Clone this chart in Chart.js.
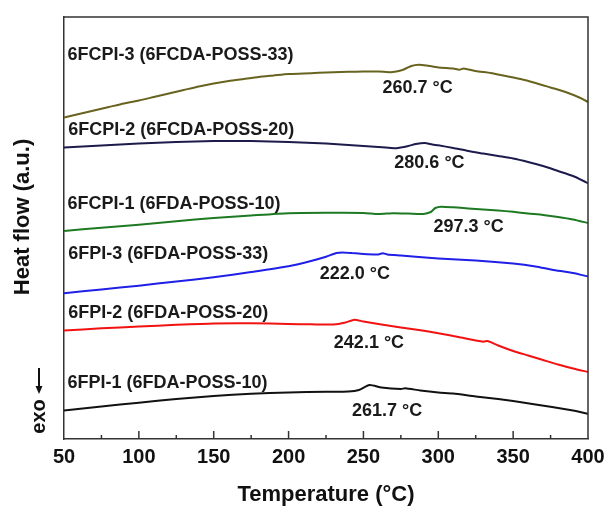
<!DOCTYPE html>
<html>
<head>
<meta charset="utf-8">
<script src="https://cdn.jsdelivr.net/npm/chart.js@4.4.1/dist/chart.umd.min.js"></script>
<style>
  html, body { margin: 0; padding: 0; background: #fff; }
  canvas { display: block; }
</style>
</head>
<body>
<canvas id="dscChart" width="604" height="510"></canvas>
<script>
// DSC curves, heat flow in arbitrary units (offset stacked)
var xTicks = [50, 100, 150, 200, 250, 300, 350, 400];

var fcpi3T = [50, 60, 70, 80, 90, 100, 110, 120, 130, 140, 150, 160, 170, 180, 190, 200, 210, 220, 230, 240, 250, 260, 268, 272, 276, 282, 287, 292, 300, 310, 314, 317, 325, 335, 345, 355, 365, 375, 385, 395, 400];
var fcpi3Y = [321.5, 325, 328.5, 332, 335.5, 338.5, 342, 345.5, 349, 352.5, 355.5, 358, 360, 362, 363.5, 365, 365.5, 366.2, 366.8, 367.2, 367.4, 367.5, 366.8, 367.5, 369, 373, 374.2, 373.5, 371.5, 370.5, 369.3, 370.5, 368, 366, 363, 360, 356, 351.5, 347, 341, 337];

var fcpi2T = [50, 75, 100, 125, 150, 175, 200, 225, 250, 265, 272, 280, 285, 291, 296, 300, 310, 320, 330, 340, 350, 360, 370, 380, 390, 395, 400];
var fcpi2Y = [291.6, 293.5, 295.4, 297, 298, 298, 297, 295.5, 293, 291.5, 290.8, 293, 295, 296, 294.5, 293.7, 291, 288, 285.5, 283, 280.5, 277, 273, 268, 263, 259.5, 255.7];

var fcpi1T = [50, 75, 100, 125, 150, 175, 200, 225, 250, 260, 270, 280, 290, 295, 298, 302, 310, 320, 330, 340, 350, 360, 370, 380, 390, 400];
var fcpi1Y = [208.1, 211.2, 214.2, 217.7, 221, 223.5, 225.8, 226.2, 226.1, 225.0, 225.8, 225.5, 225.1, 227, 231, 232.3, 231.7, 230.6, 229.5, 228.5, 227.2, 225.5, 224, 222, 219.5, 216];

var fpi3T = [50, 75, 100, 125, 150, 175, 200, 215, 225, 232, 236, 242, 250, 260, 263, 266, 275, 287, 300, 325, 350, 365, 376, 390, 400];
var fpi3Y = [145.8, 149.5, 153.3, 157.5, 161.8, 167, 172.7, 178, 182.2, 186, 186.6, 186, 185, 184.6, 185.8, 184.6, 183.5, 182, 180.5, 178.5, 175.4, 172.5, 169.3, 166, 162.5];

var fpi2T = [50, 75, 100, 125, 150, 175, 200, 215, 230, 238, 244, 250, 262, 275, 287, 300, 315, 330, 333, 336, 340, 350, 360, 370, 380, 390, 400];
var fpi2Y = [108.5, 110.7, 112.5, 114.2, 115.6, 115.8, 115, 114.7, 114.5, 116.5, 119.3, 117.5, 114.5, 111.5, 109, 105.8, 101.5, 97.3, 98.0, 96.2, 93.5, 88, 83.5, 79, 74.5, 70.5, 67];

var fpi1T = [50, 75, 100, 125, 150, 175, 200, 225, 240, 247, 254, 262, 275, 278, 288, 300, 310, 325, 340, 350, 365, 376, 390, 400];
var fpi1Y = [28.5, 32.5, 36.3, 40, 43.1, 45.2, 46.5, 47.2, 47.5, 49, 54, 51.5, 50, 50.8, 48.5, 46.5, 45.5, 42.5, 40, 38, 34.5, 32, 28.5, 25.1];

var seriesNames = ['6FCPI-3 (6FCDA-POSS-33)', '6FCPI-2 (6FCDA-POSS-20)', '6FCPI-1 (6FDA-POSS-10)',
                   '6FPI-3 (6FDA-POSS-33)', '6FPI-2 (6FDA-POSS-20)', '6FPI-1 (6FDA-POSS-10)'];
var tgLabels = ['260.7 °C', '280.6 °C', '297.3 °C', '222.0 °C', '242.1 °C', '261.7 °C'];

// where the texts sit (data coords)
var nameAnchors = [[52.3, 384], [52.8, 309], [52.3, 234.6], [52.8, 185], [52.8, 126.1], [52.3, 56.4]];
var tgAnchors = [[286.2, 351.4], [294.1, 275.7], [320.3, 211.5], [244.3, 164.5], [253.7, 95.6], [265.8, 27.8]];

var colors = ['#68631f', '#1c1b4c', '#1d7a22', '#1f1fe8', '#f21212', '#111111'];

function pts(xs, ys) {
    return xs.map(function (x, i) { return { x: x, y: ys[i] }; });
}

var allT = [fcpi3T, fcpi2T, fcpi1T, fpi3T, fpi2T, fpi1T];
var allY = [fcpi3Y, fcpi2Y, fcpi1Y, fpi3Y, fpi2Y, fpi1Y];

var datasets = allT.map(function (t, i) {
    return {
        label: seriesNames[i],
        data: pts(t, allY[i]),
        borderColor: colors[i],
        borderWidth: 2,
        pointRadius: 0,
        fill: false,
        tension: 0.2
    };
});

var fontFamily = '"Liberation Sans", Arial, sans-serif';
var textFont = 'bold 18px ' + fontFamily;

// box, inside ticks, curve labels, y title, exo arrow
var decorations = {
    id: 'decorations',
    afterDraw: function (chart) {
        var ctx = chart.ctx;
        var a = chart.chartArea;
        var xs = chart.scales.x, ys = chart.scales.y;
        ctx.save();
        ctx.strokeStyle = '#333';
        ctx.lineWidth = 1.5;
        ctx.beginPath();
        ctx.moveTo(a.left, a.top);
        ctx.lineTo(a.right, a.top);
        ctx.lineTo(a.right, a.bottom);
        ctx.stroke();

        // ticks pointing into the plot
        for (var t = 75; t < 400; t += 25) {
            var px = xs.getPixelForValue(t);
            var len = (t % 50 === 0) ? 8 : 4;
            ctx.beginPath();
            ctx.moveTo(px, a.bottom);
            ctx.lineTo(px, a.bottom - len);
            ctx.stroke();
        }

        ctx.fillStyle = '#1a1a1a';
        ctx.font = textFont;
        ctx.textBaseline = 'middle';
        ctx.textAlign = 'left';
        nameAnchors.forEach(function (p, i) {
            ctx.fillText(seriesNames[i], xs.getPixelForValue(p[0]), ys.getPixelForValue(p[1]));
        });
        ctx.textAlign = 'center';
        tgAnchors.forEach(function (p, i) {
            ctx.fillText(tgLabels[i], xs.getPixelForValue(p[0]), ys.getPixelForValue(p[1]));
        });

        // exo arrow
        ctx.fillStyle = '#111';
        ctx.strokeStyle = '#111';
        ctx.lineWidth = 2;
        ctx.beginPath();
        ctx.moveTo(39, 368);
        ctx.lineTo(39, 388);
        ctx.stroke();
        ctx.beginPath();
        ctx.moveTo(35.5, 386);
        ctx.lineTo(42.5, 386);
        ctx.lineTo(39, 394);
        ctx.closePath();
        ctx.fill();

        ctx.textAlign = 'center';
        ctx.textBaseline = 'middle';

        ctx.save();
        ctx.translate(39, 416.5);
        ctx.rotate(-Math.PI / 2);
        ctx.font = 'bold 20px ' + fontFamily;
        ctx.fillText('exo', 0, 0);
        ctx.restore();

        ctx.save();
        ctx.translate(23, 217);
        ctx.rotate(-Math.PI / 2);
        ctx.font = 'bold 22px ' + fontFamily;
        ctx.fillText('Heat flow (a.u.)', 0, 0);
        ctx.restore();

        ctx.restore();
    }
};

var ctx = document.getElementById('dscChart').getContext('2d');
var chart = new Chart(ctx, {
    type: 'line',
    data: { datasets: datasets },
    options: {
        responsive: false,
        animation: false,
        layout: { padding: { top: 17, right: 16, left: 0, bottom: 0 } },
        plugins: { legend: { display: false }, tooltip: { enabled: false } },
        scales: {
            x: {
                type: 'linear',
                min: 50,
                max: 400,
                afterBuildTicks: function (scale) {
                    scale.ticks = xTicks.map(function (v) { return { value: v }; });
                },
                afterFit: function (scale) {
                    scale.height = 71;
                    scale.paddingLeft = 0;
                    scale.paddingRight = 0;
                },
                grid: { display: false, drawTicks: false },
                border: { color: '#333', width: 1.5 },
                ticks: {
                    padding: 6,
                    color: '#111',
                    maxRotation: 0,
                    font: { family: fontFamily, size: 20, weight: 'bold' }
                },
                title: {
                    display: true,
                    text: 'Temperature (°C)',
                    color: '#111',
                    padding: { top: 0, bottom: 2 },
                    font: { family: fontFamily, size: 22, weight: 'bold' }
                }
            },
            y: {
                min: 0,
                max: 422,
                afterFit: function (scale) { scale.width = 64; },
                grid: { display: false, drawTicks: false },
                border: { color: '#333', width: 1.5 },
                ticks: { display: false }
            }
        }
    },
    plugins: [decorations]
});
</script>
</body>
</html>
